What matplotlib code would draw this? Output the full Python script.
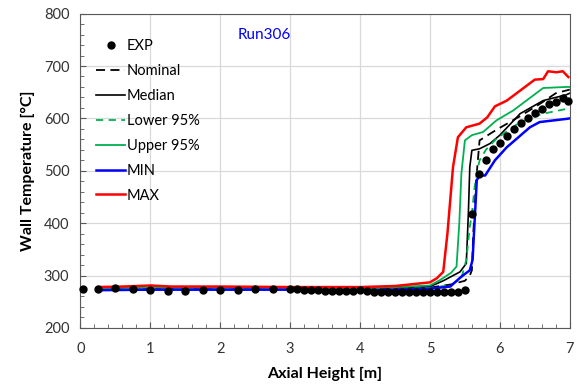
import matplotlib
matplotlib.use("Agg")
import matplotlib.pyplot as plt
from matplotlib.ticker import MultipleLocator

plt.rcParams["font.family"] = ["Lato", "DejaVu Sans"]

# experimental points
exp_x = [0.03, 0.25, 0.5, 0.75, 1.0, 1.25, 1.5, 1.75, 2.0, 2.25, 2.5, 2.75, 3.0,
         3.1, 3.2, 3.3, 3.4, 3.5, 3.6, 3.7, 3.8, 3.9, 4.0, 4.1, 4.2, 4.3, 4.4,
         4.5, 4.6, 4.7, 4.8, 4.9, 5.0, 5.1, 5.2, 5.3, 5.4, 5.5, 5.6, 5.7, 5.8,
         5.9, 6.0, 6.1, 6.2, 6.3, 6.4, 6.5, 6.6, 6.7, 6.8, 6.9, 6.98]
exp_t = [274, 275, 276, 274, 273, 271, 271, 272, 272, 272, 275, 275, 275,
         274, 273, 273, 272, 270, 270, 270, 270, 271, 272, 270, 269, 269, 269,
         268, 268, 268, 268, 268, 268, 269, 268, 268, 268, 272, 417, 494, 521,
         542, 553, 566, 580, 591, 601, 611, 618, 628, 632, 639, 634]

nom_x = [0.25, 1.0, 2.0, 3.0, 4.0, 4.5, 5.0, 5.3, 5.5, 5.57, 5.6, 5.62, 5.66,
         5.71, 5.9, 6.0, 6.3, 6.6, 6.8, 7.0]
nom_t = [274, 275, 275, 274, 274, 275, 277, 283, 290, 300, 310, 380, 480,
         558, 574, 582, 605, 630, 648, 655]

med_x = [0.25, 1.0, 2.0, 3.0, 4.0, 4.5, 5.0, 5.19, 5.43, 5.52, 5.55, 5.57,
         5.6, 5.71, 5.86, 6.0, 6.29, 6.62, 6.95, 7.0]
med_t = [275, 276, 276, 275, 275, 276, 279, 290, 307, 323, 420, 507,
         539, 542, 552, 568, 609, 634, 645, 648]

low_x = [0.25, 1.0, 2.0, 3.0, 4.0, 4.5, 5.0, 5.3, 5.45, 5.52, 5.57, 5.6,
         5.64, 5.67, 5.71, 5.8, 5.95, 6.29, 6.62, 6.95, 7.0]
low_t = [274, 275, 275, 274, 274, 275, 276, 282, 295, 330, 393, 418,
         470, 495, 520, 540, 561, 593, 609, 618, 619]

up_x = [0.25, 1.0, 2.0, 3.0, 4.0, 4.5, 5.0, 5.14, 5.3, 5.38, 5.42, 5.45,
        5.5, 5.6, 5.76, 5.95, 6.19, 6.62, 6.95, 7.0]
up_t = [276, 277, 277, 276, 276, 278, 281, 291, 305, 317, 400, 495,
        558, 568, 574, 596, 615, 658, 660, 660]

min_x = [0.25, 1.0, 2.0, 3.0, 4.0, 4.5, 5.0, 5.29, 5.45, 5.57, 5.61, 5.67,
         5.71, 5.79, 5.93, 6.1, 6.24, 6.43, 6.57, 6.95, 7.0]
min_t = [272, 273, 273, 273, 272, 273, 275, 279, 298, 310, 330, 482,
         491, 491, 520, 545, 561, 583, 593, 599, 600]

max_x = [0.25, 0.6, 1.0, 1.3, 2.0, 3.0, 4.0, 4.5, 5.0, 5.1, 5.19, 5.25,
         5.33, 5.4, 5.52, 5.71, 5.82, 5.93, 6.1, 6.29, 6.5, 6.62, 6.69,
         6.81, 6.9, 6.98]
max_t = [278, 279, 281, 279, 279, 278, 278, 280, 287, 295, 307, 380,
         507, 564, 583, 590, 602, 623, 634, 653, 674, 675, 690,
         688, 690, 679]

fig = plt.figure(figsize=(5.79, 3.89), dpi=100)
ax = fig.add_axes([0.139, 0.157, 0.845, 0.808])

ax.plot(exp_x, exp_t, "o", color="black", markersize=5, label="EXP",
        clip_on=False, zorder=5)
ax.plot(nom_x, nom_t, color="black", linewidth=1.3, dashes=(5, 3),
        label="Nominal")
ax.plot(med_x, med_t, color="black", linewidth=1.2, label="Median")
ax.plot(low_x, low_t, color="#00b050", linewidth=1.3, dashes=(4, 3),
        label="Lower 95%")
ax.plot(up_x, up_t, color="#00b050", linewidth=1.3, label="Upper 95%")
ax.plot(min_x, min_t, color="#0000ff", linewidth=1.8, label="MIN")
ax.plot(max_x, max_t, color="#ff0000", linewidth=1.8, label="MAX")

ax.set_xlim(0, 7)
ax.set_ylim(200, 800)
ax.xaxis.set_major_locator(MultipleLocator(1))
ax.xaxis.set_minor_locator(MultipleLocator(0.2))
ax.yaxis.set_major_locator(MultipleLocator(100))
ax.yaxis.set_minor_locator(MultipleLocator(20))
ax.tick_params(which="both", direction="in", colors="#595959",
               labelcolor="#333333", labelsize=10.5)
ax.tick_params(which="major", length=4)
ax.tick_params(which="minor", length=3)
ax.tick_params(axis="y", pad=8)
ax.tick_params(axis="x", pad=10)
ax.grid(True, which="major", color="#d9d9d9", linewidth=0.9)
ax.set_axisbelow(True)
for s in ax.spines.values():
    s.set_color("#595959")

ax.set_xlabel("Axial Height [m]", fontsize=11.5, fontweight="bold",
              labelpad=8)
ax.set_ylabel("Wall Temperature [\u00b0C]", fontsize=11.5, fontweight="bold",
              labelpad=6)

ax.text(2.25, 760, "Run306", color="#0000ff", fontsize=11, va="center")

ax.legend(loc="upper left", bbox_to_anchor=(0.02, 0.938), frameon=False,
          fontsize=10.5, handlelength=2.0, handletextpad=0.1,
          labelspacing=0.75, borderaxespad=0)

fig.savefig("out.png", dpi=100)
